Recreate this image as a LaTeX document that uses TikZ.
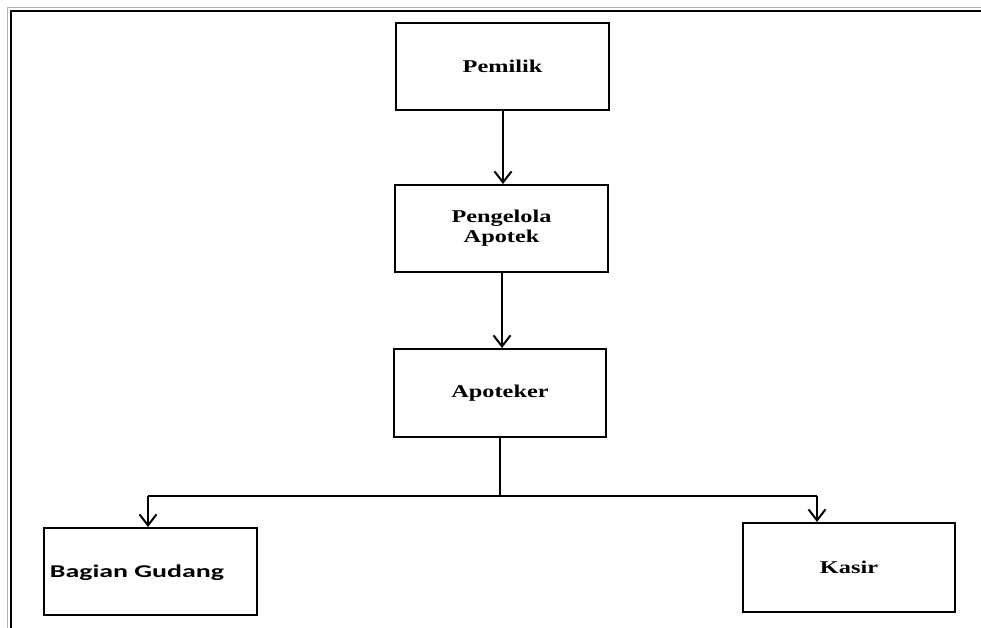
\documentclass[tikz,border=0pt]{standalone}
\usepackage{graphicx}
\usepackage{fontspec}
\setmainfont{Liberation Serif}
\newfontfamily\carlitofont{Carlito}
\usetikzlibrary{arrows.meta}
\newcommand\widetxt[1]{\scalebox{1.35}[1]{#1}}
\newcommand\widecal[1]{\scalebox{1.55}[1]{#1}}
\begin{document}
\begin{tikzpicture}[x=1pt,y=-1pt,
  orgbox/.style={draw=black, line width=2pt, inner sep=0pt, align=center,
    font=\fontsize{18}{20}\selectfont\bfseries},
  conn/.style={draw=black, line width=2pt},
  arr/.style={conn, -{Straight Barb[length=11pt,width=17pt,line width=2pt]}}]
\useasboundingbox (0,0) rectangle (981,628);
\fill[white] (0,0) rectangle (981,628);
% outer frame (top and left visible)
\draw[gray!60, line width=1pt] (7.5,628) -- (7.5,8) -- (981,8);
\draw[black, line width=2pt] (11,628) -- (11,11.5) -- (981,11.5);
% boxes
\node[orgbox, minimum width=213pt, minimum height=87pt] (pemilik) at (502.5,66.5) {\widetxt{Pemilik}};
\node[orgbox, minimum width=213pt, minimum height=87pt] (pengelola) at (501.5,228.5) {\widetxt{Pengelola}\\\widetxt{Apotek}};
\node[orgbox, minimum width=212pt, minimum height=88pt] (apoteker) at (500,393) {\widetxt{Apoteker}};
\node[orgbox, minimum width=213pt, minimum height=87pt] (gudang) at (150.5,571.5) {};
\node[font=\carlitofont\fontsize{18}{20}\selectfont\bfseries, inner sep=0pt] (gudangtxt) at (137,573) {\widecal{Bagian Gudang}};
\node[orgbox, minimum width=212pt, minimum height=89pt] (kasir) at (849,567.5) {\widetxt{Kasir}};
% connectors
\draw[arr] (pemilik.south -| 503,0) -- (pengelola.north -| 503,0);
\draw[arr] (pengelola.south -| 502,0) -- (apoteker.north -| 502,0);
\coordinate (junc) at (500,496);
\coordinate (jl) at (148,496);
\coordinate (jr) at (817,496);
\draw[conn] (apoteker.south -| junc) -- (junc);
\draw[conn] (jl) -- (jr);
\draw[arr] (jl) -- (gudang.north -| jl);
\draw[arr] (jr) -- (kasir.north -| jr);
\end{tikzpicture}
\end{document}
